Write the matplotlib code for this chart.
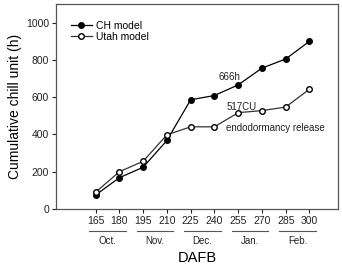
import matplotlib
matplotlib.use('Agg')
import numpy as np
import matplotlib.pyplot as plt
import matplotlib.transforms as mtransforms

# data
dafb = [165, 180, 195, 210, 225, 240, 255, 270, 285, 300]
ch_model = [75, 168, 224, 368, 586, 609, 666, 756, 805, 900]
utah_model = [90, 200, 256, 398, 441, 441, 517, 528, 547, 643]
months = ['Oct.', 'Nov.', 'Dec.', 'Jan.', 'Feb.']
month_days = [(165, 180), (195, 210), (225, 240), (255, 270), (285, 300)]

plt.rcParams['font.family'] = ['Liberation Sans', 'DejaVu Sans']

fig = plt.figure(figsize=(3.42, 2.68), dpi=100)
ax = fig.add_axes([56 / 342, 1 - 209 / 268, 282 / 342, 205 / 268])

ax.plot(dafb, ch_model, '-o', color='black', mfc='black', mec='black',
        markersize=4, linewidth=0.9, label='CH model')
ax.plot(dafb, utah_model, '-o', color='#333333', mfc='white', mec='black',
        markersize=4, linewidth=0.9, label='Utah model')

ax.text(249.5, 710, '666h', fontsize=7, ha='center', va='center', color='#222222')
ax.text(257, 548, '517CU', fontsize=7, ha='center', va='center', color='#222222')
ax.text(247.5, 432, 'endodormancy release', fontsize=7, ha='left', va='center', color='#222222')

ax.set_xlim(140, 318)
ax.set_ylim(0, 1100)
ax.set_xticks(dafb)
ax.set_xticklabels([str(d) for d in dafb])
ax.set_yticks([0, 200, 400, 600, 800, 1000])
ax.tick_params(labelsize=7.5, length=3, width=0.8, colors='#222222', pad=2)
for s in ax.spines.values():
    s.set_color('#555555')
    s.set_linewidth(0.9)

# month groupings under the tick labels
trans = mtransforms.blended_transform_factory(ax.transData, ax.transAxes)
for (d0, d1), m in zip(month_days, months):
    ax.plot([d0 - 4, d1 + 4], [-0.106, -0.106], color='#555555', linewidth=0.8,
            transform=trans, clip_on=False)
    ax.text((d0 + d1) / 2, -0.155, m, fontsize=7, ha='center', va='center',
            transform=trans, color='#222222')

ax.set_xlabel('DAFB', fontsize=10.5, labelpad=18)
ax.set_ylabel('Cumulative chill unit (h)', fontsize=10, labelpad=3)

leg = ax.legend(loc='upper left', fontsize=7.5, frameon=False, handlelength=2,
                handletextpad=0.4, labelspacing=0.15, borderaxespad=0.5,
                bbox_to_anchor=(0.02, 0.965))

fig.savefig('out.png', dpi=100)
